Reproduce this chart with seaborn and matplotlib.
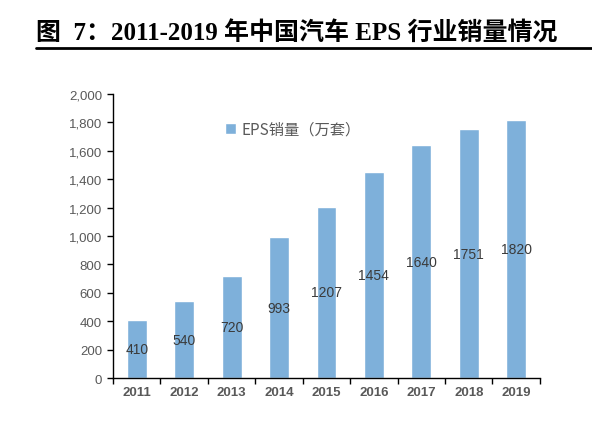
import matplotlib
matplotlib.use("Agg")
import matplotlib.pyplot as plt
import matplotlib.ticker as mticker
import pandas as pd
import seaborn as sns

## data
years = ["2011", "2012", "2013", "2014", "2015", "2016", "2017", "2018", "2019"]
eps_sales = [410, 540, 720, 993, 1207, 1454, 1640, 1751, 1820]
series_name = "EPS销量（万套）"
title_text = "图  7：2011-2019 年中国汽车 EPS 行业销量情况"

df = pd.DataFrame({"year": years, "sales": eps_sales})

sns.set_style("white")
plt.rcParams["font.family"] = ["Noto Sans CJK SC", "DejaVu Sans"]

bar_color = "#7EB0DA"
gray = "#595959"

fig = plt.figure(figsize=(5.92, 4.31), dpi=100)
ax = fig.add_axes([0.191, 0.1206, 0.721, 0.659])

sns.barplot(data=df, x="year", y="sales", color=bar_color, width=0.42,
            saturation=1, ax=ax, label=series_name)

# value labels in the middle of each bar
for i, v in enumerate(eps_sales):
    ax.text(i, v / 2, f"{v}", ha="center", va="center", fontsize=10,
            color="#3a3a3a", family=["Liberation Sans", "DejaVu Sans"])

ax.set_ylim(0, 2000)
ax.set_xlim(-0.5, len(years) - 0.5)
ax.yaxis.set_major_locator(mticker.MultipleLocator(200))
ax.yaxis.set_major_formatter(mticker.FuncFormatter(lambda v, p: f"{int(v):,}"))

# x ticks sit between categories
ax.set_xticks([i - 0.5 for i in range(len(years) + 1)], minor=False)
ax.set_xticklabels([])
ax.set_xticks(range(len(years)), minor=True)
ax.set_xticklabels(years, minor=True)
ax.tick_params(axis="x", which="minor", length=0, pad=6, labelsize=9.5,
               labelcolor=gray)
ax.tick_params(axis="x", which="major", direction="out", length=4, width=1,
               color="black", bottom=True)
ax.tick_params(axis="y", direction="out", length=4, width=1, color="black",
               left=True, labelsize=9.5, labelcolor=gray, pad=4)
for lab in ax.get_xticklabels(minor=True):
    lab.set_fontfamily(["Liberation Sans", "DejaVu Sans"])
    lab.set_fontweight("bold")
for lab in ax.get_yticklabels():
    lab.set_fontfamily(["Liberation Sans", "DejaVu Sans"])

ax.set_xlabel("")
ax.set_ylabel("")
for side in ["top", "right"]:
    ax.spines[side].set_visible(False)
for side in ["left", "bottom"]:
    ax.spines[side].set_color("black")
    ax.spines[side].set_linewidth(1)

leg = ax.legend(loc="upper left", bbox_to_anchor=(0.23, 0.955), frameon=False,
                fontsize=11, handlelength=0.7, handleheight=0.7,
                handletextpad=0.4, labelcolor=gray)

# title and rule beneath it
fig.text(0.061, 0.905, title_text, fontsize=18, fontweight="bold",
         family=["Liberation Serif", "Noto Sans CJK SC"], color="black",
         va="baseline")
fig.add_artist(plt.Line2D([0.061, 1.0], [0.886, 0.886], color="black",
                          linewidth=2, transform=fig.transFigure))

fig.savefig("out.png", dpi=100)
